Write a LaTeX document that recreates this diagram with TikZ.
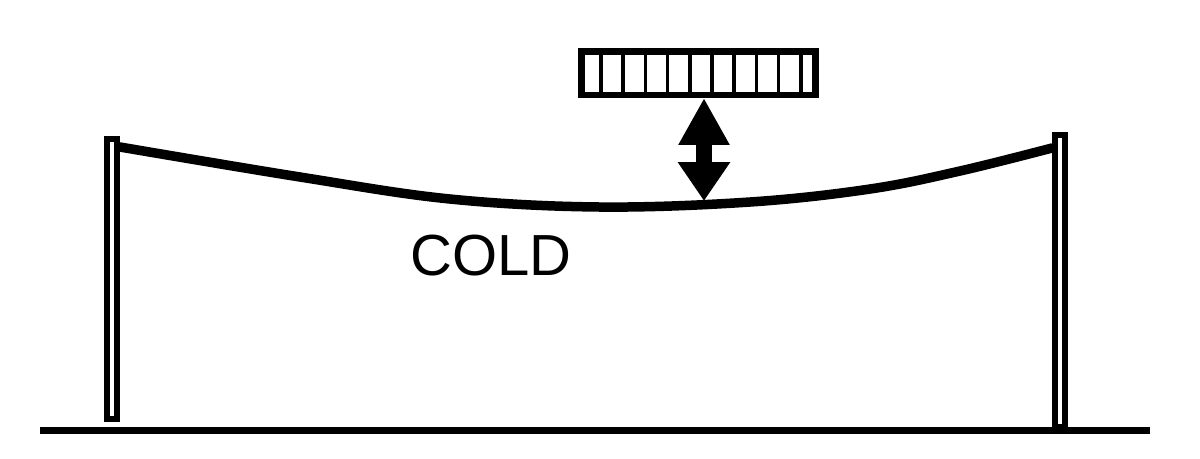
\documentclass[tikz,border=0pt]{standalone}
\usepackage{fontspec}
\setmainfont{Liberation Sans}
\usepackage{tikz}
\usetikzlibrary{positioning,arrows.meta}
\tikzset{
  sg wire/.style={line width=0.19cm, line cap=round},
  sg pole/.style={draw, line width=0.13cm},
  sg ground/.style={line width=0.14cm},
  sg load/.style={draw, line width=0.13cm, minimum width=4.69cm, minimum height=0.87cm, inner sep=0pt},
  sg cell/.style={line width=0.07cm},
  sg arr/.style={{Triangle[length=0.94cm, width=0.96cm]}-{Triangle[length=0.78cm, width=1.0cm]}, line width=0.32cm},
  sg text/.style={font=\fontsize{33}{40}\selectfont, inner sep=0pt},
}
\begin{document}
\begin{tikzpicture}[x=0.02cm, y=-0.02cm]
  \useasboundingbox (0,0) rectangle (1200,458);
  \draw[sg ground] (40,430) -- (1150,430);
  \draw[sg pole] (107,139) rectangle (117,419);
  \draw[sg pole] (1055,135) rectangle (1065,427);
  \coordinate (wl) at (120,147);
  \coordinate (wr) at (1052,148);
  \draw[sg wire] plot[smooth, tension=0.6] coordinates {(wl) (300,177) (450,199) (600,207) (750,202) (870,189) (960,171) (wr)};
  \node[sg load] (load) at (698.5,73) {};
  \foreach \i in {0,...,9} \draw[sg cell] (601+22.2*\i,51) -- ++(0,44);
  \coordinate (sag) at (704,201);
  \draw[sg arr] (load.south -| sag) -- (sag);
  \node[sg text] (cold) at (491,256) {COLD};
\end{tikzpicture}
\end{document}
